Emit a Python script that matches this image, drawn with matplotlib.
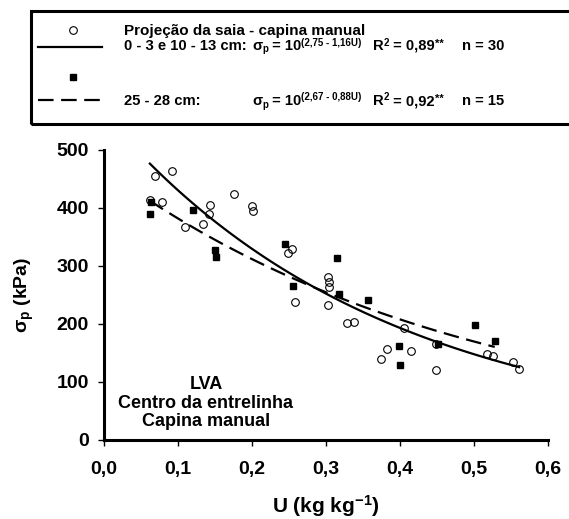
import matplotlib
matplotlib.use('Agg')
import matplotlib.pyplot as plt
import numpy as np
from matplotlib.patches import Rectangle
from matplotlib.lines import Line2D

plt.rcParams['font.family'] = ['Liberation Sans', 'DejaVu Sans']
plt.rcParams['font.weight'] = 'bold'
plt.rcParams['axes.labelweight'] = 'bold'
plt.rcParams['mathtext.fontset'] = 'custom'
plt.rcParams['mathtext.rm'] = 'Liberation Sans:bold'
plt.rcParams['mathtext.it'] = 'Liberation Sans:bold'
plt.rcParams['mathtext.bf'] = 'Liberation Sans:bold'

# saia projection, 0-3 and 10-13 cm (open circles)
u_saia = [0.069, 0.092, 0.062, 0.079, 0.110, 0.143, 0.142, 0.134, 0.176, 0.200,
          0.201, 0.254, 0.248, 0.258, 0.303, 0.304, 0.304, 0.303, 0.329, 0.338,
          0.405, 0.382, 0.374, 0.415, 0.448, 0.448, 0.517, 0.526, 0.553, 0.561]
s_saia = [455, 463, 414, 411, 368, 406, 390, 372, 424, 403,
          395, 329, 323, 238, 281, 273, 263, 232, 201, 204,
          193, 157, 139, 153, 165, 120, 148, 145, 134, 123]

# 25-28 cm (filled squares)
u_deep = [0.063, 0.062, 0.120, 0.150, 0.152, 0.245, 0.255, 0.315, 0.318,
          0.357, 0.399, 0.400, 0.452, 0.502, 0.528]
s_deep = [411, 390, 397, 327, 315, 338, 266, 313, 252,
          242, 162, 129, 166, 198, 170]

# sigma_p = 10^(a - b*U)
fit_saia = (2.75, 1.16)
fit_deep = (2.67, 0.88)

xticks = [0.0, 0.1, 0.2, 0.3, 0.4, 0.5, 0.6]
xtick_labels = ['0,0', '0,1', '0,2', '0,3', '0,4', '0,5', '0,6']
yticks = [0, 100, 200, 300, 400, 500]

W, H = 569, 519
fig = plt.figure(figsize=(W / 100, H / 100), dpi=100)
ax = fig.add_axes([104 / W, 1 - 440 / H, 444 / W, 290 / H])

ax.plot(u_saia, s_saia, 'o', mfc='none', mec='black', ms=5.5, mew=0.8, zorder=3)
ax.plot(u_deep, s_deep, 's', color='black', ms=5, zorder=4)

dash = [7.0, 3.4]
u1 = np.linspace(min(u_saia), max(u_saia), 100)
ax.plot(u1, 10 ** (fit_saia[0] - fit_saia[1] * u1), color='black', lw=1.6)
u2 = np.linspace(min(u_deep), max(u_deep), 100)
ax.plot(u2, 10 ** (fit_deep[0] - fit_deep[1] * u2), color='black', lw=1.6,
        dashes=dash)

ax.set_xlim(0, 0.6)
ax.set_ylim(0, 500)
ax.set_xticks(xticks)
ax.set_xticklabels(xtick_labels)
ax.set_yticks(yticks)
ax.tick_params(direction='out', length=4, width=1, labelsize=14)
ax.tick_params(axis='x', pad=11)
ax.tick_params(axis='y', pad=7)
for side in ['top', 'right']:
    ax.spines[side].set_visible(False)
for side in ['left', 'bottom']:
    ax.spines[side].set_linewidth(2.2)

ax.set_xlabel('U (kg kg$^{-1}$)', fontsize=15, labelpad=11)
ax.set_ylabel(r'$\sigma_p$ (kPa)', fontsize=14, labelpad=15)

fig.text(206 / W, 1 - 403 / H, 'LVA\nCentro da entrelinha\nCapina manual',
         ha='center', va='center', fontsize=13, linespacing=1.1)


# legend box at the top, drawn by hand
def fx(x):
    return x / W


def fy(y):
    return 1 - y / H


fig.add_artist(Rectangle((fx(31), fy(124)), (590 - 31) / W, 113 / H,
                         transform=fig.transFigure, fill=False, lw=2.2,
                         color='black'))
fig.add_artist(Line2D([fx(73)], [fy(29.5)], marker='o', mfc='none', mec='black',
                      ms=5.5, mew=0.8, transform=fig.transFigure))
fig.add_artist(Line2D([fx(38), fx(102)], [fy(46.7)] * 2, color='black', lw=1.6,
                      transform=fig.transFigure))
fig.add_artist(Line2D([fx(73)], [fy(77.3)], marker='s', color='black', ms=5,
                      transform=fig.transFigure))
fig.add_artist(Line2D([fx(38), fx(102)], [fy(100)] * 2, color='black', lw=1.6,
                      dashes=dash, transform=fig.transFigure))

renderer = fig.canvas.get_renderer()


def put(x, base, parts):
    # write text pieces one after another, each with its own size and lift
    for s, size, lift in parts:
        t = fig.text(fx(x), fy(base - lift), s, fontsize=size,
                     ha='left', va='baseline')
        x += t.get_window_extent(renderer).width


fs, fs_sup = 10.6, 7

put(124, 35.5, [('Projeção da saia - capina manual', 11, 0)])

put(124, 50, [('0 - 3 e 10 - 13 cm:', fs, 0)])
put(252, 50, [('σ', fs, 0), ('p', fs_sup, -2.5), (' = 10', fs, 0),
              ('(2,75 - 1,16U)', fs_sup, 4.5)])
put(373, 50, [('R', fs, 0), ('2', fs_sup, 4.5), (' = 0,89', fs, 0),
              ('**', 8, 3.5)])
put(462, 50, [('n = 30', fs, 0)])

put(124, 105, [('25 - 28 cm:', fs, 0)])
put(252, 105, [('σ', fs, 0), ('p', fs_sup, -2.5), (' = 10', fs, 0),
               ('(2,67 - 0,88U)', fs_sup, 4.5)])
put(373, 105, [('R', fs, 0), ('2', fs_sup, 4.5), (' = 0,92', fs, 0),
               ('**', 8, 3.5)])
put(462, 105, [('n = 15', fs, 0)])

fig.savefig('out.png', dpi=100)
